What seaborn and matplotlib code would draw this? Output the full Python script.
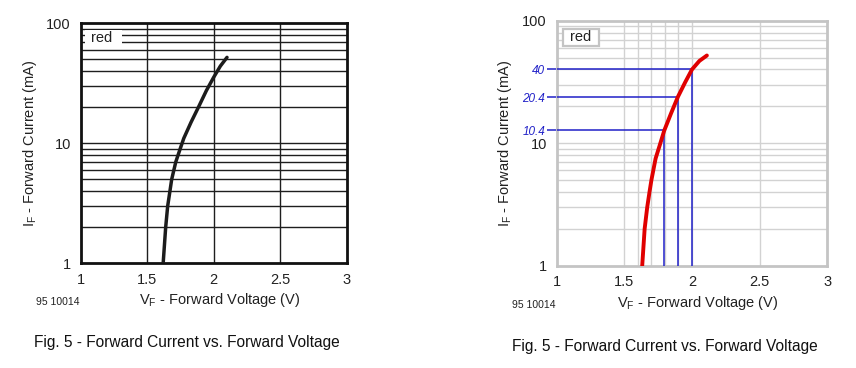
import matplotlib
matplotlib.use('Agg')
import matplotlib.pyplot as plt
from matplotlib.ticker import NullLocator
from matplotlib.patches import Rectangle
import seaborn as sns

# left panel: original datasheet curve (V, mA)
left_vf = [1.62, 1.639, 1.654, 1.671, 1.684, 1.715, 1.745, 1.775, 1.83, 1.89, 1.945, 2.0, 2.05, 2.10]
left_if = [1, 2, 3, 4, 5, 7, 8.8, 11, 15, 20.5, 27.5, 35.5, 44, 52]

# right panel: redrawn red curve
right_vf = [1.632, 1.65, 1.669, 1.686, 1.700, 1.731, 1.76, 1.795, 1.845, 1.895, 1.95, 2.0, 2.055, 2.11]
right_if = [1, 2, 3, 4, 5, 7.5, 9.5, 12.7, 17.5, 23.8, 31.5, 40, 47, 52]

# blue read-off guides (drawn positions and their printed labels)
guide_vf = [1.795, 1.895, 2.0]
guide_if = [12.7, 23.8, 40]
guide_labels = ['10.4', '20.4', '40']

x_ticks = [1, 1.5, 2, 2.5, 3]
x_ticklabels = ['1', '1.5', '2', '2.5', '3']
y_ticks = [1, 10, 100]
y_ticklabels = ['1', '10', '100']
grid_if = [2, 3, 4, 5, 6, 7, 8, 9, 10, 20, 30, 40, 50, 60, 70, 80, 90]
left_grid_vf = [1.5, 2, 2.5]
right_grid_vf = [1.5, 1.6, 1.7, 1.8, 1.9, 2.0, 2.5]

sns.set_theme(style='white')
plt.rcParams['font.family'] = ['Liberation Sans', 'DejaVu Sans']
plt.rcParams['mathtext.fontset'] = 'custom'
plt.rcParams['mathtext.rm'] = 'Liberation Sans'
plt.rcParams['mathtext.it'] = 'Liberation Sans:italic'


def setup_axes(ax, grid_vf, line_color, spine_color, grid_lw, spine_lw, xpad, ypad):
    ax.set_yscale('log')
    ax.set_xlim(1, 3)
    ax.set_ylim(1, 100)
    ax.set_xticks(x_ticks, x_ticklabels)
    ax.set_yticks(y_ticks, y_ticklabels)
    ax.yaxis.set_minor_locator(NullLocator())
    ax.xaxis.set_minor_locator(NullLocator())
    ax.tick_params(axis='both', length=0, labelsize=10.5, colors='#222222')
    ax.tick_params(axis='x', pad=xpad)
    ax.tick_params(axis='y', pad=ypad)
    ax.hlines(grid_if, 1, 3, color=line_color, lw=grid_lw, zorder=1)
    ax.vlines(grid_vf, 1, 100, color=line_color, lw=grid_lw, zorder=1)
    for s in ax.spines.values():
        s.set_visible(True)
        s.set_color(spine_color)
        s.set_linewidth(spine_lw)
    ax.set_xlabel('')
    ax.set_ylabel('')


fig = plt.figure(figsize=(8.56, 3.68), dpi=100)
W, H = 856, 368
ax1 = fig.add_axes([80.7 / W, 1 - 263.3 / H, 266 / W, 240 / H])
ax2 = fig.add_axes([556.7 / W, 1 - 265.7 / H, 270.6 / W, 245 / H])

# ---- left panel
sns.lineplot(x=left_vf, y=left_if, ax=ax1, color='#1c1c1c', lw=2.5, sort=False, zorder=5)
setup_axes(ax1, left_grid_vf, '#1e1e1e', '#111111', 1.0, 2.0, 7, 7)
ax1.add_patch(Rectangle((0.016, 0.905), 0.139, 0.067, transform=ax1.transAxes,
                        facecolor='white', edgecolor='none', zorder=3))
ax1.text(0.079, 0.939, 'red', transform=ax1.transAxes, ha='center', va='center',
         fontsize=10.5, color='#222222', zorder=4)

# ---- right panel
setup_axes(ax2, right_grid_vf, '#d2d2d2', '#c4c4c4', 1.0, 2.0, 7, 7)
ax2.hlines(guide_if, 1, guide_vf, color='#2020c8', lw=1.1, zorder=3)
ax2.vlines(guide_vf, 1, guide_if, color='#2020c8', lw=1.1, zorder=3)
sns.lineplot(x=right_vf, y=right_if, ax=ax2, color='#e00000', lw=2.8, sort=False, zorder=5)
ax2.set_xlabel('')
ax2.set_ylabel('')
ax2.add_patch(Rectangle((0.022, 0.898), 0.134, 0.068, transform=ax2.transAxes,
                        facecolor='white', edgecolor='#c4c4c4', lw=1.6, zorder=4))
ax2.text(0.089, 0.932, 'red', transform=ax2.transAxes, ha='center', va='center',
         fontsize=10.5, color='#222222', zorder=5)

sec = ax2.secondary_yaxis('left')
sec.set_yticks(guide_if, guide_labels)
sec.yaxis.set_minor_locator(NullLocator())
sec.tick_params(axis='y', length=7.2, width=1.1, color='#2020c8', labelcolor='#2020c8',
                pad=1, labelsize=8.5)
for lab in sec.get_yticklabels():
    lab.set_style('italic')
sec.spines['left'].set_visible(False)

# ---- texts
for cx, cy_lab, xl_x, xl_y, code_x, code_y, cap_x, cap_y in [
        (30, 143, 220, 300, 57.5, 302, 187, 343),
        (504.5, 143, 698, 303, 534, 305, 665, 347)]:
    fig.text(cx / W, 1 - cy_lab / H, r'I$_\mathregular{F}$ - Forward Current (mA)', rotation=90,
             ha='center', va='center', fontsize=10.5, color='#222222')
    fig.text(xl_x / W, 1 - xl_y / H, r'V$_\mathregular{F}$ - Forward Voltage (V)',
             ha='center', va='center', fontsize=10.5, color='#222222')
    fig.text(code_x / W, 1 - code_y / H, '95 10014', ha='center', va='center',
             fontsize=7.5, color='#222222')
    fig.text(cap_x / W, 1 - cap_y / H, 'Fig. 5 - Forward Current vs. Forward Voltage',
             ha='center', va='center', fontsize=11.2, color='#111111')

fig.savefig('out.png', dpi=100)
